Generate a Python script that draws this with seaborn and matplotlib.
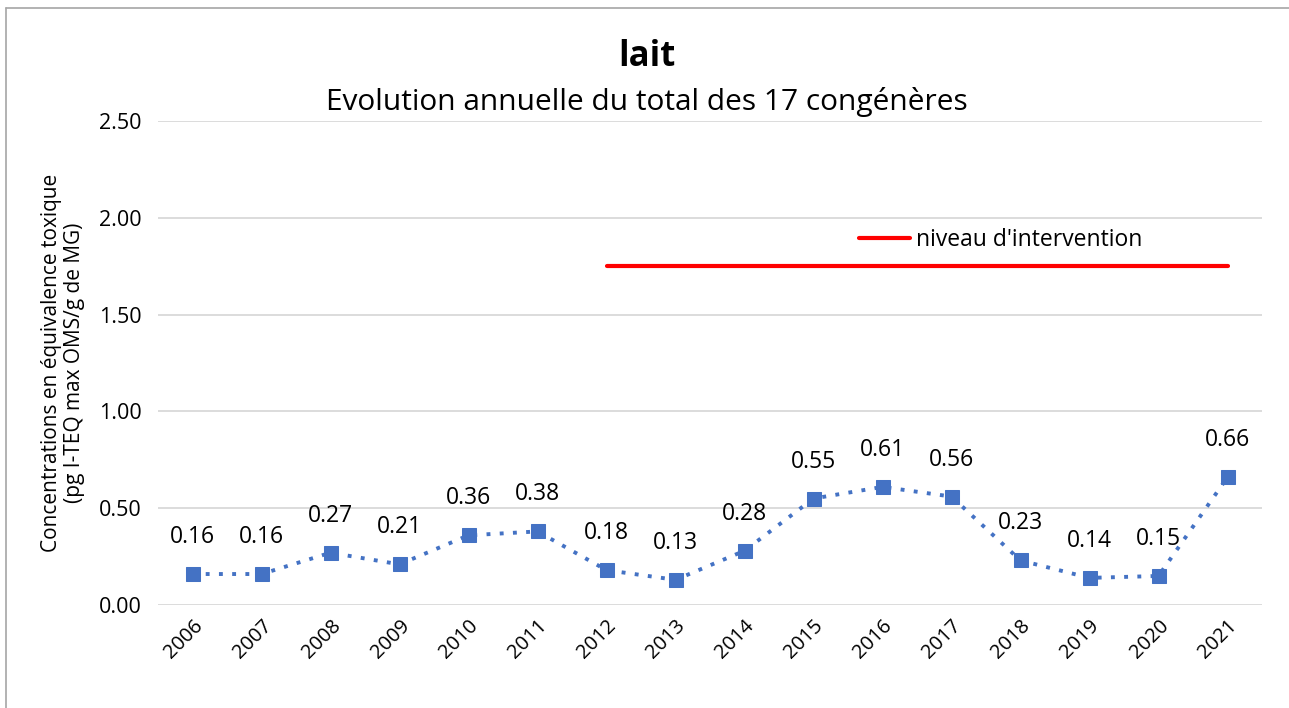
import matplotlib
matplotlib.use("Agg")
import matplotlib.pyplot as plt
import seaborn as sns
import pandas as pd
from matplotlib.lines import Line2D

years = ["2006", "2007", "2008", "2009", "2010", "2011", "2012", "2013",
         "2014", "2015", "2016", "2017", "2018", "2019", "2020", "2021"]
values = [0.16, 0.16, 0.27, 0.21, 0.36, 0.38, 0.18, 0.13,
          0.28, 0.55, 0.61, 0.56, 0.23, 0.14, 0.15, 0.66]
level_years = ["2012", "2021"]
level_values = [1.75, 1.75]
yticks = [0.0, 0.5, 1.0, 1.5, 2.0, 2.5]

sns.set_theme(style="white")
plt.rcParams['font.family'] = ['Open Sans', 'DejaVu Sans']
plt.rcParams['text.color'] = 'black'
plt.rcParams['axes.labelcolor'] = 'black'
plt.rcParams['xtick.color'] = 'black'
plt.rcParams['ytick.color'] = 'black'

fig = plt.figure(figsize=(12.89, 7.08), dpi=100)
ax = fig.add_axes([158/1289, 1 - 605/708, (1262-158)/1289, (605-121)/708])

df = pd.DataFrame({"year": years, "value": values})
x = list(range(len(years)))
sns.lineplot(x=x, y=values, ax=ax, linestyle=(0, (1, 2.4)), color="#4472C4", linewidth=2.8,
             marker="s", markersize=10, markerfacecolor="#4472C4",
             markeredgecolor="#4472C4", zorder=3)
lx = [years.index(y) for y in level_years]
ax.plot(lx, level_values, color="#FF0000", linewidth=3, solid_capstyle="round", zorder=2)

ax.set_xlim(-0.5, len(years) - 0.5)
ax.set_ylim(0, 2.5)
ax.set_yticks(yticks)
ax.set_yticklabels([f"{v:.2f}" for v in yticks], fontsize=15.5)
ax.set_xticks(x)
ax.set_xticklabels(years, rotation=45, fontsize=14.5, ha="right", rotation_mode="anchor")
ax.tick_params(axis="x", pad=8, length=0)
ax.tick_params(axis="y", pad=12, length=0)
ax.grid(axis="y", color="#D9D9D9", linewidth=1.3)
for s in ax.spines.values():
    s.set_visible(False)

for xi, v in zip(x, values):
    ax.annotate(f"{v:.2f}", (xi, v), xytext=(0, 18), textcoords="offset points",
                ha="center", va="bottom", fontsize=16.5, color="#000000")

ax.set_ylabel("Concentrations en équivalence toxique\n(pg I-TEQ max OMS/g de MG)",
              fontsize=15, labelpad=10, linespacing=1.1)

fig.text(647/1289, 1 - 57/708, "lait", ha="center", va="center",
         fontsize=25, fontweight="bold")
fig.text(647/1289, 1 - 102/708, "Evolution annuelle du total des 17 congénères",
         ha="center", va="center", fontsize=21.5)

handle = Line2D([], [], color="#FF0000", linewidth=3, solid_capstyle="round")
ax.legend([handle], ["niveau d'intervention"], loc="center left",
          bbox_to_anchor=((850-158)/1104, (605-240)/484), frameon=False,
          fontsize=16.5, handlelength=2.2, handletextpad=0.3, borderaxespad=0)

fig.add_artist(Line2D([6/1289, 6/1289], [0, 1 - 8/708], color="#A6A6A6", linewidth=1.2,
                      transform=fig.transFigure))
fig.add_artist(Line2D([6/1289, 1], [1 - 8/708, 1 - 8/708], color="#A6A6A6", linewidth=1.2,
                      transform=fig.transFigure))

fig.savefig("out.png", dpi=100)
